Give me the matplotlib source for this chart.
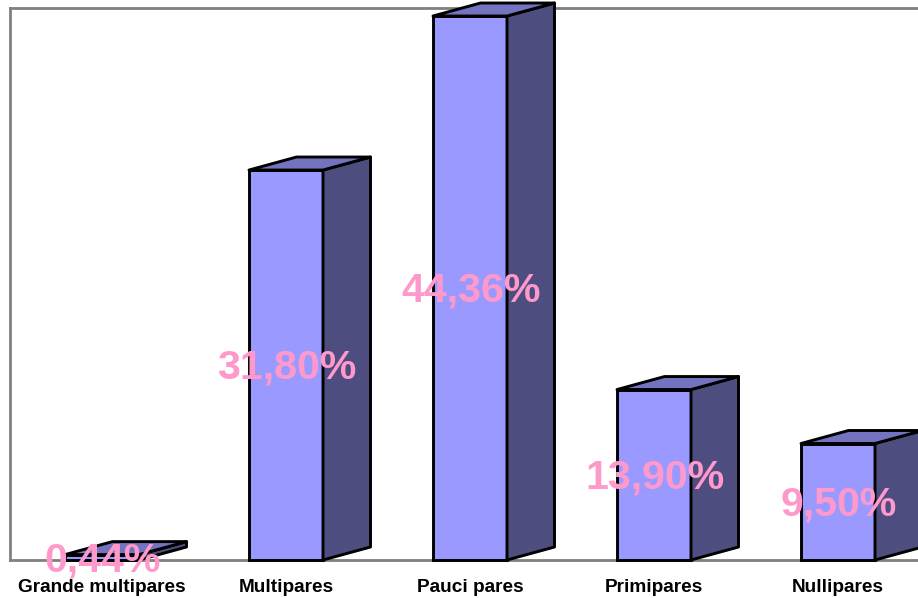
import matplotlib
matplotlib.use("Agg")
import matplotlib.pyplot as plt
from matplotlib.patches import Polygon

plt.rcParams['font.family'] = ['Liberation Sans', 'DejaVu Sans']

categories = ["Grande multipares", "Multipares", "Pauci pares", "Primipares", "Nullipares"]
values = [0.44, 31.80, 44.36, 13.90, 9.50]
value_labels = ["0,44%", "31,80%", "44,36%", "13,90%", "9,50%"]

FRONT = "#9999ff"
SIDE = "#4d4d80"
TOP = "#7373bf"
PINK = "#ff99cc"
BAR_W = 74 / 184
# 3d offset of the back face
DX = 47.5 / 184
DY = 13 / 12.263

fig = plt.figure(figsize=(9.18, 5.98), dpi=100)
ax = fig.add_axes([10 / 918, 38 / 598, 908 / 918, 552 / 598])
ax.set_xlim(-92 / 184, 816 / 184)
ax.set_ylim(0, 552 / 12.263)

for i, v in enumerate(values):
    l = i - BAR_W / 2
    r = i + BAR_W / 2
    ax.bar(i, v, BAR_W, color=FRONT, edgecolor="black", linewidth=2.1, zorder=3, clip_on=False)
    side = [(r, 0), (r + DX, DY), (r + DX, v + DY), (r, v)]
    top = [(l, v), (l + DX, v + DY), (r + DX, v + DY), (r, v)]
    ax.add_patch(Polygon(side, fc=SIDE, ec="black", lw=2.1, zorder=3, clip_on=False, joinstyle="round"))
    ax.add_patch(Polygon(top, fc=TOP, ec="black", lw=2.1, zorder=3, clip_on=False, joinstyle="round"))

for i, v in enumerate(values):
    ax.annotate(value_labels[i], (i, v / 2), xytext=(0.6, -2), textcoords="offset points",
                color=PINK, fontsize=29.6, fontweight="bold",
                ha="center", va="center", zorder=5, annotation_clip=False)

for s in ["left", "top", "bottom"]:
    ax.spines[s].set_color("#808080")
    ax.spines[s].set_linewidth(2.0)
ax.spines["right"].set_visible(False)

ax.set_yticks([])
ax.set_xticks(range(len(categories)))
ax.set_xticklabels(categories, fontsize=13.7, fontweight="bold")
ax.tick_params(axis="x", length=0, pad=13.5)

fig.savefig("out.png", dpi=100)
